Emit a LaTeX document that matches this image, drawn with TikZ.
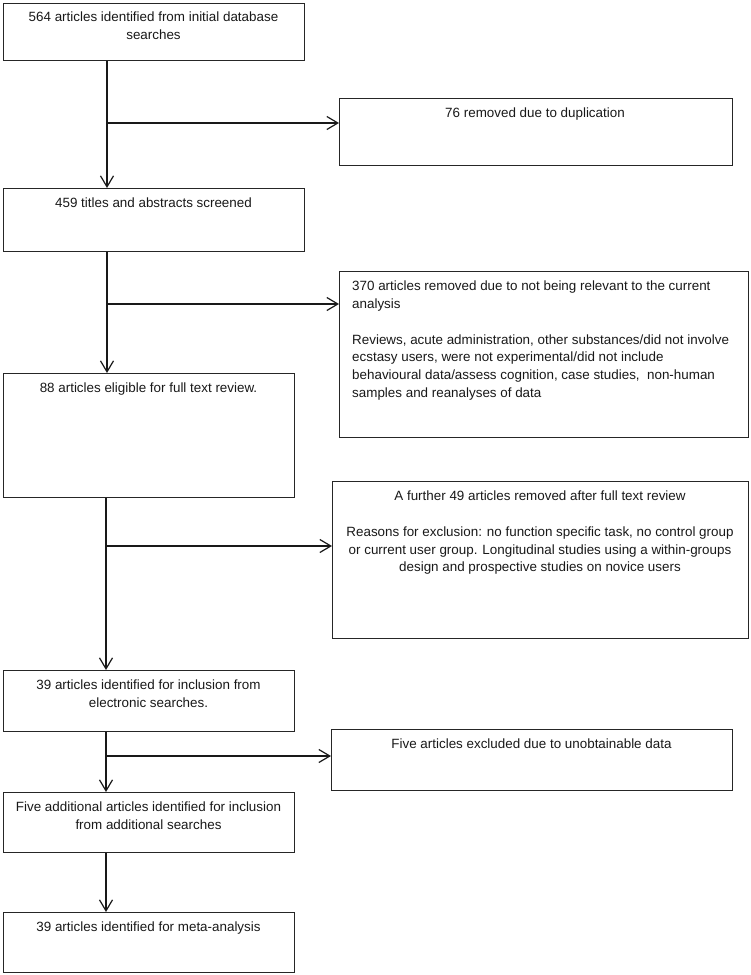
\documentclass[tikz,border=0pt]{standalone}
\usepackage{fontspec}
\setmainfont{Liberation Sans}
\usetikzlibrary{arrows.meta}
\tikzset{
  box/.style={draw=black!85, line width=1.2pt, rectangle, anchor=north west, inner sep=0pt},
  txt/.style={anchor=north, inner sep=0pt, align=center, text=black!90, font=\fontsize{13.4}{17.7}\selectfont},
  txtl/.style={txt, anchor=north west, align=left},
  arr/.style={draw=black!90, line width=1.2pt, -{Straight Barb[length=11pt,width=13pt,line width=1.2pt]}},
}
\begin{document}
\begin{tikzpicture}[x=1pt,y=-1pt]
\fill[white] (0,0) rectangle (750,975);
\useasboundingbox (0,0) rectangle (750,975);
% boxes
\node[box, minimum width=301pt, minimum height=57pt] (b1) at (3,3) {};
\node[box, minimum width=393pt, minimum height=67pt] (b2) at (339,98) {};
\node[box, minimum width=301pt, minimum height=63pt] (b3) at (3,188) {};
\node[box, minimum width=409pt, minimum height=166pt] (b4) at (339,271) {};
\node[box, minimum width=291pt, minimum height=124pt] (b5) at (3,373) {};
\node[box, minimum width=416pt, minimum height=157pt] (b6) at (332,481) {};
\node[box, minimum width=291pt, minimum height=61pt] (b7) at (3,670) {};
\node[box, minimum width=401pt, minimum height=61pt] (b8) at (331,729) {};
\node[box, minimum width=291pt, minimum height=60pt] (b9) at (3,792) {};
\node[box, minimum width=291pt, minimum height=60pt] (b10) at (3,912) {};
% texts
\node[txt] (t1) at (153.5,12) {564 articles identified from initial database\\searches};
\node[txt] (t2) at (535,108) {76 removed due to duplication};
\node[txt] (t3) at (153.5,198) {459 titles and abstracts screened};
\node[txtl] (t4) at (352,281) {370 articles removed due to not being relevant to the current\\analysis\\[17.7pt]Reviews, acute administration, other substances/did not involve\\ecstasy users, were not experimental/did not include\\behavioural data/assess cognition, case studies,\ \ non-human\\samples and reanalyses of data};
\node[txt] (t5) at (148.5,383) {88 articles eligible for full text review.};
\node[txt] (t6) at (540,491) {A further 49 articles removed after full text review\\[17.7pt]Reasons for exclusion: no function specific task, no control group\\or current user group. Longitudinal studies using a within-groups\\design and prospective studies on novice users};
\node[txt] (t7) at (148.5,680) {39 articles identified for inclusion from\\electronic searches.};
\node[txt] (t8) at (531.5,739) {Five articles excluded due to unobtainable data};
\node[txt] (t9) at (148.5,802) {Five additional articles identified for inclusion\\from additional searches};
\node[txt] (t10) at (148.5,922) {39 articles identified for meta-analysis};
% connector coordinates
\coordinate (xa) at (107,0);
\coordinate (xb) at (106,0);
\coordinate (j1) at (107,123);
\coordinate (j2) at (107,304);
\coordinate (j3) at (106,546);
\coordinate (j4) at (106,756);
% vertical arrows
\draw[arr] (b1.south -| xa) -- (b3.north -| xa);
\draw[arr] (b3.south -| xa) -- (b5.north -| xa);
\draw[arr] (b5.south -| xb) -- (b7.north -| xb);
\draw[arr] (b7.south -| xb) -- (b9.north -| xb);
\draw[arr] (b9.south -| xb) -- (b10.north -| xb);
% horizontal arrows
\draw[arr] (j1) -- (b2.west |- j1);
\draw[arr] (j2) -- (b4.west |- j2);
\draw[arr] (j3) -- (b6.west |- j3);
\draw[arr] (j4) -- (b8.west |- j4);
\end{tikzpicture}
\end{document}
